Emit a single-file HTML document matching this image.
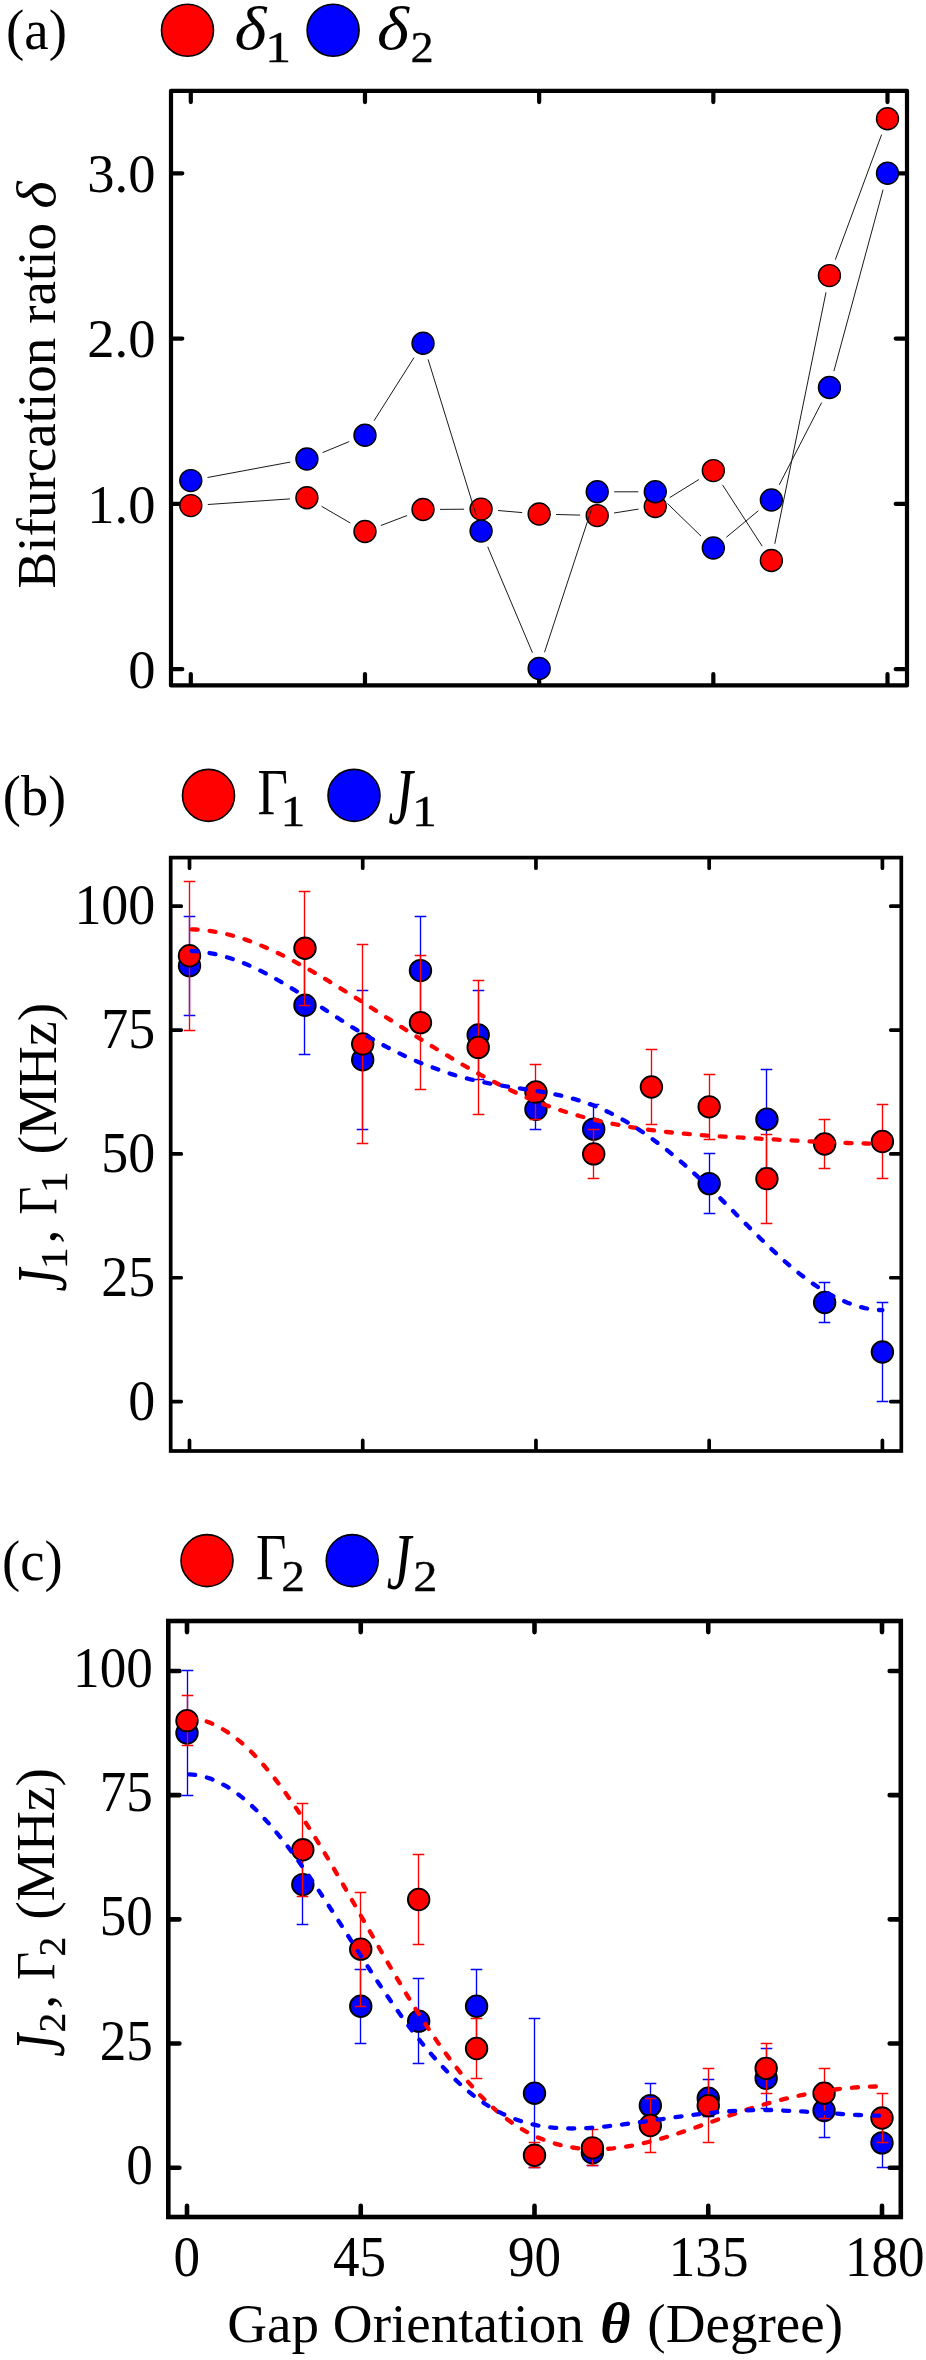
<!DOCTYPE html>
<html><head><meta charset="utf-8"><title>Figure</title>
<style>
html,body{margin:0;padding:0;background:#fff;}
body{width:926px;height:2360px;overflow:hidden;font-family:"Liberation Serif",serif;}
svg{display:block;}
svg text{font-family:"Liberation Serif",serif;fill:#000;}
</style></head><body>
<svg width="926" height="2360" viewBox="0 0 926 2360">
<rect width="926" height="2360" fill="#fff"/>
<rect x="171" y="90.8" width="736.00" height="594.60" fill="none" stroke="#000" stroke-width="4.2" stroke-linejoin="round"/>
<path d="M190.80 91.80V102.10M190.80 684.40V674.10M364.98 91.80V102.10M364.98 684.40V674.10M539.15 91.80V102.10M539.15 684.40V674.10M713.33 91.80V102.10M713.33 684.40V674.10M887.50 91.80V102.10M887.50 684.40V674.10M172.00 669.20H182.30M906.00 669.20H895.70M172.00 503.90H182.30M906.00 503.90H895.70M172.00 338.60H182.30M906.00 338.60H895.70M172.00 173.30H182.30M906.00 173.30H895.70" fill="none" stroke="#000" stroke-width="4.2" stroke-linecap="round"/>
<path d="M207.8 504.5L290.0 498.9M321.6 506.3L350.3 523.0M380.9 525.5L407.1 515.5M440.0 509.4L464.1 509.2M498.0 510.5L522.2 512.6M556.1 514.5L580.2 515.1M614.0 513.0L638.5 509.1M669.7 497.6L698.9 479.5M722.5 484.9L762.2 546.2M774.8 543.8L826.0 292.3M835.3 259.7L881.6 134.6" fill="none" stroke="#1a1a1a" stroke-width="1.0"/>
<circle cx="190.80" cy="505.60" r="11.0" fill="#ff0000" stroke="#000" stroke-width="1.4"/>
<circle cx="306.92" cy="497.80" r="11.0" fill="#ff0000" stroke="#000" stroke-width="1.4"/>
<circle cx="364.98" cy="531.50" r="11.0" fill="#ff0000" stroke="#000" stroke-width="1.4"/>
<circle cx="423.03" cy="509.50" r="11.0" fill="#ff0000" stroke="#000" stroke-width="1.4"/>
<circle cx="481.09" cy="509.10" r="11.0" fill="#ff0000" stroke="#000" stroke-width="1.4"/>
<circle cx="539.15" cy="514.00" r="11.0" fill="#ff0000" stroke="#000" stroke-width="1.4"/>
<circle cx="597.21" cy="515.60" r="11.0" fill="#ff0000" stroke="#000" stroke-width="1.4"/>
<circle cx="655.27" cy="506.50" r="11.0" fill="#ff0000" stroke="#000" stroke-width="1.4"/>
<circle cx="713.33" cy="470.60" r="11.0" fill="#ff0000" stroke="#000" stroke-width="1.4"/>
<circle cx="771.38" cy="560.50" r="11.0" fill="#ff0000" stroke="#000" stroke-width="1.4"/>
<circle cx="829.44" cy="275.60" r="11.0" fill="#ff0000" stroke="#000" stroke-width="1.4"/>
<circle cx="887.50" cy="118.70" r="11.0" fill="#ff0000" stroke="#000" stroke-width="1.4"/>
<path d="M207.5 477.5L290.2 462.1M322.6 452.6L349.2 441.6M374.0 420.8L414.0 357.6M428.1 359.4L476.1 514.9M487.7 546.8L532.5 652.8M544.5 652.3L591.9 508.0M614.2 491.8L638.3 491.8M667.5 503.6L701.1 536.2M726.4 537.2L758.3 510.8M779.2 484.9L821.6 402.6M833.9 371.1L883.1 189.6" fill="none" stroke="#1a1a1a" stroke-width="1.0"/>
<circle cx="190.80" cy="480.60" r="11.0" fill="#0000ff" stroke="#000" stroke-width="1.4"/>
<circle cx="306.92" cy="459.00" r="11.0" fill="#0000ff" stroke="#000" stroke-width="1.4"/>
<circle cx="364.98" cy="435.20" r="11.0" fill="#0000ff" stroke="#000" stroke-width="1.4"/>
<circle cx="423.03" cy="343.20" r="11.0" fill="#0000ff" stroke="#000" stroke-width="1.4"/>
<circle cx="481.09" cy="531.10" r="11.0" fill="#0000ff" stroke="#000" stroke-width="1.4"/>
<circle cx="539.15" cy="668.50" r="11.0" fill="#0000ff" stroke="#000" stroke-width="1.4"/>
<circle cx="597.21" cy="491.80" r="11.0" fill="#0000ff" stroke="#000" stroke-width="1.4"/>
<circle cx="655.27" cy="491.80" r="11.0" fill="#0000ff" stroke="#000" stroke-width="1.4"/>
<circle cx="713.33" cy="548.00" r="11.0" fill="#0000ff" stroke="#000" stroke-width="1.4"/>
<circle cx="771.38" cy="500.00" r="11.0" fill="#0000ff" stroke="#000" stroke-width="1.4"/>
<circle cx="829.44" cy="387.50" r="11.0" fill="#0000ff" stroke="#000" stroke-width="1.4"/>
<circle cx="887.50" cy="173.20" r="11.0" fill="#0000ff" stroke="#000" stroke-width="1.4"/>
<rect x="170.7" y="857.6" width="730.60" height="593.40" fill="none" stroke="#000" stroke-width="3.7" stroke-linejoin="miter"/>
<path d="M189.50 858.60V868.15M189.50 1450.00V1440.45M362.73 858.60V868.15M362.73 1450.00V1440.45M535.95 858.60V868.15M535.95 1450.00V1440.45M709.17 858.60V868.15M709.17 1450.00V1440.45M882.40 858.60V868.15M882.40 1450.00V1440.45M171.70 1401.60H181.25M900.30 1401.60H890.75M171.70 1277.75H181.25M900.30 1277.75H890.75M171.70 1153.90H181.25M900.30 1153.90H890.75M171.70 1030.05H181.25M900.30 1030.05H890.75M171.70 906.20H181.25M900.30 906.20H890.75" fill="none" stroke="#000" stroke-width="3.7" stroke-linecap="round"/>
<path d="M189.50 916.50V1015.50M183.70 916.50H195.30M183.70 1015.50H195.30" fill="none" stroke="#0000ff" stroke-width="1.35"/>
<path d="M304.50 955.50V1054.50M298.70 955.50H310.30M298.70 1054.50H310.30" fill="none" stroke="#0000ff" stroke-width="1.35"/>
<path d="M362.50 990.50V1129.50M356.70 990.50H368.30M356.70 1129.50H368.30" fill="none" stroke="#0000ff" stroke-width="1.35"/>
<path d="M420.50 916.50V1025.50M414.70 916.50H426.30M414.70 1025.50H426.30" fill="none" stroke="#0000ff" stroke-width="1.35"/>
<path d="M478.50 990.50V1079.50M472.70 990.50H484.30M472.70 1079.50H484.30" fill="none" stroke="#0000ff" stroke-width="1.35"/>
<path d="M535.50 1089.50V1129.50M529.70 1089.50H541.30M529.70 1129.50H541.30" fill="none" stroke="#0000ff" stroke-width="1.35"/>
<path d="M593.50 1104.50V1153.50M587.70 1104.50H599.30M587.70 1153.50H599.30" fill="none" stroke="#0000ff" stroke-width="1.35"/>
<path d="M709.50 1153.50V1213.50M703.70 1153.50H715.30M703.70 1213.50H715.30" fill="none" stroke="#0000ff" stroke-width="1.35"/>
<path d="M766.50 1069.50V1168.50M760.70 1069.50H772.30M760.70 1168.50H772.30" fill="none" stroke="#0000ff" stroke-width="1.35"/>
<path d="M824.50 1282.50V1322.50M818.70 1282.50H830.30M818.70 1322.50H830.30" fill="none" stroke="#0000ff" stroke-width="1.35"/>
<path d="M882.50 1302.50V1401.50M876.70 1302.50H888.30M876.70 1401.50H888.30" fill="none" stroke="#0000ff" stroke-width="1.35"/>
<circle cx="189.50" cy="965.65" r="10.8" fill="#0000ff" stroke="#000" stroke-width="1.8"/>
<circle cx="304.98" cy="1005.28" r="10.8" fill="#0000ff" stroke="#000" stroke-width="1.8"/>
<circle cx="362.73" cy="1059.77" r="10.8" fill="#0000ff" stroke="#000" stroke-width="1.8"/>
<circle cx="420.47" cy="970.60" r="10.8" fill="#0000ff" stroke="#000" stroke-width="1.8"/>
<circle cx="478.21" cy="1035.00" r="10.8" fill="#0000ff" stroke="#000" stroke-width="1.8"/>
<circle cx="535.95" cy="1109.31" r="10.8" fill="#0000ff" stroke="#000" stroke-width="1.8"/>
<circle cx="593.69" cy="1129.13" r="10.8" fill="#0000ff" stroke="#000" stroke-width="1.8"/>
<circle cx="709.17" cy="1183.62" r="10.8" fill="#0000ff" stroke="#000" stroke-width="1.8"/>
<circle cx="766.92" cy="1119.22" r="10.8" fill="#0000ff" stroke="#000" stroke-width="1.8"/>
<circle cx="824.66" cy="1302.52" r="10.8" fill="#0000ff" stroke="#000" stroke-width="1.8"/>
<circle cx="882.40" cy="1352.06" r="10.8" fill="#0000ff" stroke="#000" stroke-width="1.8"/>
<path d="M189.50 881.50V1030.50M183.70 881.50H195.30M183.70 1030.50H195.30" fill="none" stroke="#ff0000" stroke-width="1.35"/>
<path d="M304.50 891.50V1005.50M298.70 891.50H310.30M298.70 1005.50H310.30" fill="none" stroke="#ff0000" stroke-width="1.35"/>
<path d="M362.50 944.50V1143.50M356.70 944.50H368.30M356.70 1143.50H368.30" fill="none" stroke="#ff0000" stroke-width="1.35"/>
<path d="M420.50 955.50V1089.50M414.70 955.50H426.30M414.70 1089.50H426.30" fill="none" stroke="#ff0000" stroke-width="1.35"/>
<path d="M478.50 980.50V1114.50M472.70 980.50H484.30M472.70 1114.50H484.30" fill="none" stroke="#ff0000" stroke-width="1.35"/>
<path d="M535.50 1064.50V1119.50M529.70 1064.50H541.30M529.70 1119.50H541.30" fill="none" stroke="#ff0000" stroke-width="1.35"/>
<path d="M593.50 1129.50V1178.50M587.70 1129.50H599.30M587.70 1178.50H599.30" fill="none" stroke="#ff0000" stroke-width="1.35"/>
<path d="M651.50 1049.50V1124.50M645.70 1049.50H657.30M645.70 1124.50H657.30" fill="none" stroke="#ff0000" stroke-width="1.35"/>
<path d="M709.50 1074.50V1139.50M703.70 1074.50H715.30M703.70 1139.50H715.30" fill="none" stroke="#ff0000" stroke-width="1.35"/>
<path d="M766.50 1134.50V1223.50M760.70 1134.50H772.30M760.70 1223.50H772.30" fill="none" stroke="#ff0000" stroke-width="1.35"/>
<path d="M824.50 1119.50V1168.50M818.70 1119.50H830.30M818.70 1168.50H830.30" fill="none" stroke="#ff0000" stroke-width="1.35"/>
<path d="M882.50 1104.50V1178.50M876.70 1104.50H888.30M876.70 1178.50H888.30" fill="none" stroke="#ff0000" stroke-width="1.35"/>
<circle cx="189.50" cy="955.74" r="10.8" fill="#ff0000" stroke="#000" stroke-width="1.8"/>
<circle cx="304.98" cy="948.31" r="10.8" fill="#ff0000" stroke="#000" stroke-width="1.8"/>
<circle cx="362.73" cy="1043.92" r="10.8" fill="#ff0000" stroke="#000" stroke-width="1.8"/>
<circle cx="420.47" cy="1022.62" r="10.8" fill="#ff0000" stroke="#000" stroke-width="1.8"/>
<circle cx="478.21" cy="1047.39" r="10.8" fill="#ff0000" stroke="#000" stroke-width="1.8"/>
<circle cx="535.95" cy="1091.97" r="10.8" fill="#ff0000" stroke="#000" stroke-width="1.8"/>
<circle cx="593.69" cy="1153.90" r="10.8" fill="#ff0000" stroke="#000" stroke-width="1.8"/>
<circle cx="651.43" cy="1087.02" r="10.8" fill="#ff0000" stroke="#000" stroke-width="1.8"/>
<circle cx="709.17" cy="1106.84" r="10.8" fill="#ff0000" stroke="#000" stroke-width="1.8"/>
<circle cx="766.92" cy="1178.67" r="10.8" fill="#ff0000" stroke="#000" stroke-width="1.8"/>
<circle cx="824.66" cy="1143.99" r="10.8" fill="#ff0000" stroke="#000" stroke-width="1.8"/>
<circle cx="882.40" cy="1141.51" r="10.8" fill="#ff0000" stroke="#000" stroke-width="1.8"/>
<path d="M189.5 929.3 L195.3 929.5 L201.1 929.9 L207.0 930.5 L212.8 931.3 L218.6 932.3 L224.4 933.5 L230.3 935.0 L236.1 936.6 L241.9 938.4 L247.7 940.4 L253.5 942.5 L259.4 944.8 L265.2 947.3 L271.0 949.8 L276.8 952.6 L282.7 955.4 L288.5 958.3 L294.3 961.4 L300.1 964.6 L306.0 967.8 L311.8 971.1 L317.6 974.5 L323.4 977.9 L329.2 981.4 L335.1 985.0 L340.9 988.6 L346.7 992.2 L352.5 995.8 L358.4 999.5 L364.2 1003.2 L370.0 1006.9 L375.8 1010.6 L381.6 1014.4 L387.5 1018.1 L393.3 1021.8 L399.1 1025.5 L404.9 1029.3 L410.8 1033.0 L416.6 1036.6 L422.4 1040.3 L428.2 1043.9 L434.1 1047.5 L439.9 1051.1 L445.7 1054.6 L451.5 1058.1 L457.3 1061.6 L463.2 1065.0 L469.0 1068.3 L474.8 1071.6 L480.6 1074.8 L486.5 1077.9 L492.3 1081.0 L498.1 1084.0 L503.9 1086.9 L509.7 1089.7 L515.6 1092.5 L521.4 1095.1 L527.2 1097.7 L533.0 1100.1 L538.9 1102.4 L544.7 1104.7 L550.5 1106.8 L556.3 1108.8 L562.2 1110.8 L568.0 1112.6 L573.8 1114.3 L579.6 1116.0 L585.4 1117.5 L591.3 1119.0 L597.1 1120.4 L602.9 1121.7 L608.7 1123.0 L614.6 1124.2 L620.4 1125.3 L626.2 1126.3 L632.0 1127.3 L637.8 1128.2 L643.7 1129.1 L649.5 1129.9 L655.3 1130.6 L661.1 1131.3 L667.0 1132.0 L672.8 1132.6 L678.6 1133.2 L684.4 1133.7 L690.3 1134.2 L696.1 1134.7 L701.9 1135.1 L707.7 1135.6 L713.5 1136.0 L719.4 1136.3 L725.2 1136.7 L731.0 1137.0 L736.8 1137.4 L742.7 1137.7 L748.5 1138.0 L754.3 1138.4 L760.1 1138.7 L765.9 1139.0 L771.8 1139.3 L777.6 1139.7 L783.4 1140.0 L789.2 1140.3 L795.1 1140.6 L800.9 1140.9 L806.7 1141.2 L812.5 1141.5 L818.4 1141.8 L824.2 1142.1 L830.0 1142.3 L835.8 1142.6 L841.6 1142.8 L847.5 1143.0 L853.3 1143.2 L859.1 1143.3 L864.9 1143.5 L870.8 1143.6 L876.6 1143.7 L882.4 1143.8" fill="none" stroke="#ff0000" stroke-width="4.3" stroke-dasharray="6 12" stroke-dashoffset="-2.15" stroke-linecap="round" stroke-linejoin="round"/>
<path d="M189.5 950.9 L195.3 951.2 L201.1 951.7 L207.0 952.6 L212.8 953.6 L218.6 954.9 L224.4 956.5 L230.3 958.2 L236.1 960.2 L241.9 962.4 L247.7 964.8 L253.5 967.4 L259.4 970.2 L265.2 973.1 L271.0 976.2 L276.8 979.5 L282.7 982.8 L288.5 986.3 L294.3 989.9 L300.1 993.5 L306.0 997.3 L311.8 1001.0 L317.6 1004.8 L323.4 1008.6 L329.2 1012.4 L335.1 1016.2 L340.9 1020.0 L346.7 1023.7 L352.5 1027.4 L358.4 1030.9 L364.2 1034.4 L370.0 1037.8 L375.8 1041.1 L381.6 1044.3 L387.5 1047.4 L393.3 1050.3 L399.1 1053.2 L404.9 1056.0 L410.8 1058.6 L416.6 1061.2 L422.4 1063.6 L428.2 1065.9 L434.1 1068.1 L439.9 1070.2 L445.7 1072.2 L451.5 1074.1 L457.3 1075.9 L463.2 1077.5 L469.0 1079.0 L474.8 1080.4 L480.6 1081.7 L486.5 1082.9 L492.3 1084.0 L498.1 1085.0 L503.9 1086.0 L509.7 1086.9 L515.6 1087.8 L521.4 1088.6 L527.2 1089.5 L533.0 1090.4 L538.9 1091.4 L544.7 1092.4 L550.5 1093.5 L556.3 1094.6 L562.2 1095.9 L568.0 1097.3 L573.8 1098.9 L579.6 1100.6 L585.4 1102.5 L591.3 1104.6 L597.1 1106.9 L602.9 1109.5 L608.7 1112.2 L614.6 1115.2 L620.4 1118.3 L626.2 1121.7 L632.0 1125.2 L637.8 1128.9 L643.7 1132.8 L649.5 1136.9 L655.3 1141.2 L661.1 1145.6 L667.0 1150.1 L672.8 1154.9 L678.6 1159.7 L684.4 1164.7 L690.3 1169.9 L696.1 1175.2 L701.9 1180.6 L707.7 1186.1 L713.5 1191.7 L719.4 1197.4 L725.2 1203.2 L731.0 1209.0 L736.8 1214.9 L742.7 1220.8 L748.5 1226.6 L754.3 1232.4 L760.1 1238.2 L765.9 1243.8 L771.8 1249.4 L777.6 1254.8 L783.4 1260.1 L789.2 1265.2 L795.1 1270.1 L800.9 1274.8 L806.7 1279.2 L812.5 1283.4 L818.4 1287.3 L824.2 1291.0 L830.0 1294.4 L835.8 1297.5 L841.6 1300.2 L847.5 1302.7 L853.3 1304.8 L859.1 1306.6 L864.9 1308.1 L870.8 1309.2 L876.6 1309.9 L882.4 1310.2" fill="none" stroke="#0000ff" stroke-width="4.3" stroke-dasharray="6 12" stroke-dashoffset="-2.15" stroke-linecap="round" stroke-linejoin="round"/>
<rect x="168.3" y="1621" width="732.50" height="596.00" fill="none" stroke="#000" stroke-width="4.6" stroke-linejoin="miter"/>
<path d="M187.00 1622.00V1632.10M187.00 2216.00V2205.90M360.75 1622.00V1632.10M360.75 2216.00V2205.90M534.50 1622.00V1632.10M534.50 2216.00V2205.90M708.25 1622.00V1632.10M708.25 2216.00V2205.90M882.00 1622.00V1632.10M882.00 2216.00V2205.90M169.30 2167.70H179.40M899.80 2167.70H889.70M169.30 2043.52H179.40M899.80 2043.52H889.70M169.30 1919.35H179.40M899.80 1919.35H889.70M169.30 1795.17H179.40M899.80 1795.17H889.70M169.30 1671.00H179.40M899.80 1671.00H889.70" fill="none" stroke="#000" stroke-width="4.6" stroke-linecap="round"/>
<path d="M187.50 1670.50V1795.50M181.70 1670.50H193.30M181.70 1795.50H193.30" fill="none" stroke="#0000ff" stroke-width="1.35"/>
<path d="M302.50 1844.50V1924.50M296.70 1844.50H308.30M296.70 1924.50H308.30" fill="none" stroke="#0000ff" stroke-width="1.35"/>
<path d="M360.50 1969.50V2043.50M354.70 1969.50H366.30M354.70 2043.50H366.30" fill="none" stroke="#0000ff" stroke-width="1.35"/>
<path d="M418.50 1978.50V2063.50M412.70 1978.50H424.30M412.70 2063.50H424.30" fill="none" stroke="#0000ff" stroke-width="1.35"/>
<path d="M476.50 1969.50V2043.50M470.70 1969.50H482.30M470.70 2043.50H482.30" fill="none" stroke="#0000ff" stroke-width="1.35"/>
<path d="M534.50 2018.50V2167.50M528.70 2018.50H540.30M528.70 2167.50H540.30" fill="none" stroke="#0000ff" stroke-width="1.35"/>
<path d="M592.50 2139.50V2165.50M586.70 2139.50H598.30M586.70 2165.50H598.30" fill="none" stroke="#0000ff" stroke-width="1.35"/>
<path d="M650.50 2083.50V2127.50M644.70 2083.50H656.30M644.70 2127.50H656.30" fill="none" stroke="#0000ff" stroke-width="1.35"/>
<path d="M708.50 2079.50V2116.50M702.70 2079.50H714.30M702.70 2116.50H714.30" fill="none" stroke="#0000ff" stroke-width="1.35"/>
<path d="M766.50 2048.50V2108.50M760.70 2048.50H772.30M760.70 2108.50H772.30" fill="none" stroke="#0000ff" stroke-width="1.35"/>
<path d="M824.50 2083.50V2137.50M818.70 2083.50H830.30M818.70 2137.50H830.30" fill="none" stroke="#0000ff" stroke-width="1.35"/>
<path d="M882.50 2118.50V2167.50M876.70 2118.50H888.30M876.70 2167.50H888.30" fill="none" stroke="#0000ff" stroke-width="1.35"/>
<circle cx="187.00" cy="1733.09" r="10.8" fill="#0000ff" stroke="#000" stroke-width="1.8"/>
<circle cx="302.83" cy="1884.58" r="10.8" fill="#0000ff" stroke="#000" stroke-width="1.8"/>
<circle cx="360.75" cy="2006.27" r="10.8" fill="#0000ff" stroke="#000" stroke-width="1.8"/>
<circle cx="418.67" cy="2021.17" r="10.8" fill="#0000ff" stroke="#000" stroke-width="1.8"/>
<circle cx="476.58" cy="2006.27" r="10.8" fill="#0000ff" stroke="#000" stroke-width="1.8"/>
<circle cx="534.50" cy="2093.19" r="10.8" fill="#0000ff" stroke="#000" stroke-width="1.8"/>
<circle cx="592.42" cy="2152.80" r="10.8" fill="#0000ff" stroke="#000" stroke-width="1.8"/>
<circle cx="650.33" cy="2105.61" r="10.8" fill="#0000ff" stroke="#000" stroke-width="1.8"/>
<circle cx="708.25" cy="2098.16" r="10.8" fill="#0000ff" stroke="#000" stroke-width="1.8"/>
<circle cx="766.17" cy="2078.29" r="10.8" fill="#0000ff" stroke="#000" stroke-width="1.8"/>
<circle cx="824.08" cy="2110.58" r="10.8" fill="#0000ff" stroke="#000" stroke-width="1.8"/>
<circle cx="882.00" cy="2142.86" r="10.8" fill="#0000ff" stroke="#000" stroke-width="1.8"/>
<path d="M187.50 1695.50V1745.50M181.70 1695.50H193.30M181.70 1745.50H193.30" fill="none" stroke="#ff0000" stroke-width="1.35"/>
<path d="M302.50 1803.50V1896.50M296.70 1803.50H308.30M296.70 1896.50H308.30" fill="none" stroke="#ff0000" stroke-width="1.35"/>
<path d="M360.50 1892.50V2006.50M354.70 1892.50H366.30M354.70 2006.50H366.30" fill="none" stroke="#ff0000" stroke-width="1.35"/>
<path d="M418.50 1854.50V1944.50M412.70 1854.50H424.30M412.70 1944.50H424.30" fill="none" stroke="#ff0000" stroke-width="1.35"/>
<path d="M476.50 2018.50V2078.50M470.70 2018.50H482.30M470.70 2078.50H482.30" fill="none" stroke="#ff0000" stroke-width="1.35"/>
<path d="M534.50 2142.50V2167.50M528.70 2142.50H540.30M528.70 2167.50H540.30" fill="none" stroke="#ff0000" stroke-width="1.35"/>
<path d="M592.50 2129.50V2165.50M586.70 2129.50H598.30M586.70 2165.50H598.30" fill="none" stroke="#ff0000" stroke-width="1.35"/>
<path d="M650.50 2098.50V2152.50M644.70 2098.50H656.30M644.70 2152.50H656.30" fill="none" stroke="#ff0000" stroke-width="1.35"/>
<path d="M708.50 2068.50V2142.50M702.70 2068.50H714.30M702.70 2142.50H714.30" fill="none" stroke="#ff0000" stroke-width="1.35"/>
<path d="M766.50 2043.50V2093.50M760.70 2043.50H772.30M760.70 2093.50H772.30" fill="none" stroke="#ff0000" stroke-width="1.35"/>
<path d="M824.50 2068.50V2118.50M818.70 2068.50H830.30M818.70 2118.50H830.30" fill="none" stroke="#ff0000" stroke-width="1.35"/>
<path d="M882.50 2093.50V2142.50M876.70 2093.50H888.30M876.70 2142.50H888.30" fill="none" stroke="#ff0000" stroke-width="1.35"/>
<circle cx="187.00" cy="1720.67" r="10.8" fill="#ff0000" stroke="#000" stroke-width="1.8"/>
<circle cx="302.83" cy="1849.81" r="10.8" fill="#ff0000" stroke="#000" stroke-width="1.8"/>
<circle cx="360.75" cy="1949.15" r="10.8" fill="#ff0000" stroke="#000" stroke-width="1.8"/>
<circle cx="418.67" cy="1899.48" r="10.8" fill="#ff0000" stroke="#000" stroke-width="1.8"/>
<circle cx="476.58" cy="2048.49" r="10.8" fill="#ff0000" stroke="#000" stroke-width="1.8"/>
<circle cx="534.50" cy="2155.28" r="10.8" fill="#ff0000" stroke="#000" stroke-width="1.8"/>
<circle cx="592.42" cy="2147.83" r="10.8" fill="#ff0000" stroke="#000" stroke-width="1.8"/>
<circle cx="650.33" cy="2125.48" r="10.8" fill="#ff0000" stroke="#000" stroke-width="1.8"/>
<circle cx="708.25" cy="2105.61" r="10.8" fill="#ff0000" stroke="#000" stroke-width="1.8"/>
<circle cx="766.17" cy="2068.36" r="10.8" fill="#ff0000" stroke="#000" stroke-width="1.8"/>
<circle cx="824.08" cy="2093.19" r="10.8" fill="#ff0000" stroke="#000" stroke-width="1.8"/>
<circle cx="882.00" cy="2118.03" r="10.8" fill="#ff0000" stroke="#000" stroke-width="1.8"/>
<path d="M187.0 1717.7 L192.8 1718.2 L198.7 1719.2 L204.5 1720.8 L210.4 1722.9 L216.2 1725.5 L222.0 1728.7 L227.9 1732.3 L233.7 1736.5 L239.6 1741.1 L245.4 1746.2 L251.2 1751.8 L257.1 1757.8 L262.9 1764.3 L268.8 1771.2 L274.6 1778.4 L280.4 1786.0 L286.3 1794.0 L292.1 1802.3 L298.0 1810.8 L303.8 1819.7 L309.6 1828.7 L315.5 1838.1 L321.3 1847.6 L327.2 1857.3 L333.0 1867.2 L338.8 1877.2 L344.7 1887.3 L350.5 1897.5 L356.4 1907.7 L362.2 1918.0 L368.1 1928.3 L373.9 1938.5 L379.7 1948.7 L385.6 1958.9 L391.4 1968.9 L397.3 1978.8 L403.1 1988.6 L408.9 1998.2 L414.8 2007.6 L420.6 2016.8 L426.5 2025.7 L432.3 2034.4 L438.1 2042.9 L444.0 2051.1 L449.8 2059.0 L455.7 2066.6 L461.5 2074.0 L467.3 2081.0 L473.2 2087.6 L479.0 2094.0 L484.9 2100.0 L490.7 2105.6 L496.5 2110.8 L502.4 2115.6 L508.2 2120.1 L514.1 2124.2 L519.9 2128.0 L525.7 2131.4 L531.6 2134.4 L537.4 2137.2 L543.3 2139.6 L549.1 2141.8 L554.9 2143.6 L560.8 2145.2 L566.6 2146.5 L572.5 2147.5 L578.3 2148.3 L584.1 2148.8 L590.0 2149.1 L595.8 2149.2 L601.7 2149.1 L607.5 2148.8 L613.3 2148.3 L619.2 2147.6 L625.0 2146.8 L630.9 2145.8 L636.7 2144.7 L642.5 2143.4 L648.4 2142.0 L654.2 2140.5 L660.1 2138.9 L665.9 2137.2 L671.7 2135.4 L677.6 2133.5 L683.4 2131.6 L689.3 2129.6 L695.1 2127.6 L700.9 2125.6 L706.8 2123.5 L712.6 2121.5 L718.5 2119.4 L724.3 2117.3 L730.2 2115.3 L736.0 2113.3 L741.8 2111.3 L747.7 2109.4 L753.5 2107.6 L759.4 2105.8 L765.2 2104.1 L771.0 2102.5 L776.9 2100.9 L782.7 2099.4 L788.6 2098.0 L794.4 2096.6 L800.2 2095.4 L806.1 2094.2 L811.9 2093.1 L817.8 2092.1 L823.6 2091.1 L829.4 2090.2 L835.3 2089.5 L841.1 2088.8 L847.0 2088.2 L852.8 2087.7 L858.6 2087.2 L864.5 2086.9 L870.3 2086.7 L876.2 2086.5 L882.0 2086.5" fill="none" stroke="#ff0000" stroke-width="4.3" stroke-dasharray="6 12" stroke-dashoffset="-2.15" stroke-linecap="round" stroke-linejoin="round"/>
<path d="M187.0 1774.3 L192.8 1774.6 L198.7 1775.4 L204.5 1776.8 L210.4 1778.6 L216.2 1781.0 L222.0 1783.9 L227.9 1787.2 L233.7 1791.0 L239.6 1795.3 L245.4 1800.1 L251.2 1805.3 L257.1 1810.9 L262.9 1817.0 L268.8 1823.4 L274.6 1830.2 L280.4 1837.3 L286.3 1844.7 L292.1 1852.4 L298.0 1860.4 L303.8 1868.6 L309.6 1877.0 L315.5 1885.6 L321.3 1894.4 L327.2 1903.3 L333.0 1912.3 L338.8 1921.3 L344.7 1930.5 L350.5 1939.6 L356.4 1948.8 L362.2 1957.9 L368.1 1967.0 L373.9 1976.0 L379.7 1984.8 L385.6 1993.5 L391.4 2002.0 L397.3 2010.4 L403.1 2018.5 L408.9 2026.4 L414.8 2034.0 L420.6 2041.4 L426.5 2048.5 L432.3 2055.4 L438.1 2062.0 L444.0 2068.3 L449.8 2074.3 L455.7 2080.0 L461.5 2085.4 L467.3 2090.5 L473.2 2095.2 L479.0 2099.6 L484.9 2103.7 L490.7 2107.4 L496.5 2110.7 L502.4 2113.7 L508.2 2116.4 L514.1 2118.8 L519.9 2120.8 L525.7 2122.6 L531.6 2124.1 L537.4 2125.4 L543.3 2126.4 L549.1 2127.2 L554.9 2127.8 L560.8 2128.2 L566.6 2128.4 L572.5 2128.5 L578.3 2128.4 L584.1 2128.2 L590.0 2127.8 L595.8 2127.4 L601.7 2126.9 L607.5 2126.3 L613.3 2125.6 L619.2 2124.9 L625.0 2124.1 L630.9 2123.4 L636.7 2122.6 L642.5 2121.8 L648.4 2120.9 L654.2 2120.1 L660.1 2119.3 L665.9 2118.5 L671.7 2117.7 L677.6 2116.9 L683.4 2116.1 L689.3 2115.3 L695.1 2114.6 L700.9 2113.9 L706.8 2113.3 L712.6 2112.7 L718.5 2112.1 L724.3 2111.6 L730.2 2111.2 L736.0 2110.8 L741.8 2110.5 L747.7 2110.3 L753.5 2110.2 L759.4 2110.1 L765.2 2110.1 L771.0 2110.2 L776.9 2110.4 L782.7 2110.5 L788.6 2110.8 L794.4 2111.1 L800.2 2111.4 L806.1 2111.7 L811.9 2112.1 L817.8 2112.5 L823.6 2112.8 L829.4 2113.2 L835.3 2113.6 L841.1 2114.0 L847.0 2114.4 L852.8 2114.7 L858.6 2115.0 L864.5 2115.3 L870.3 2115.5 L876.2 2115.7 L882.0 2115.8" fill="none" stroke="#0000ff" stroke-width="4.3" stroke-dasharray="6 12" stroke-dashoffset="-2.15" stroke-linecap="round" stroke-linejoin="round"/>
<g style="opacity:0.999">
<text transform="translate(6,48.9) scale(0.99,1.02)" font-size="55.5" text-anchor="start" >(a)</text>
<text transform="translate(2.8,814.8) scale(0.98,1.02)" font-size="55.5" text-anchor="start" >(b)</text>
<text transform="translate(2.0,1580.0) scale(0.985,1.02)" font-size="55.5" text-anchor="start" >(c)</text>
<text transform="translate(155.4,191.9) scale(1.0,1.02)" font-size="54.5" text-anchor="end" >3.0</text>
<text transform="translate(155.4,357.20000000000005) scale(1.0,1.02)" font-size="54.5" text-anchor="end" >2.0</text>
<text transform="translate(155.4,522.5) scale(1.0,1.02)" font-size="54.5" text-anchor="end" >1.0</text>
<text transform="translate(155.4,687.8000000000001) scale(1.0,1.02)" font-size="54.5" text-anchor="end" >0</text>
<text transform="translate(155.3,924.1) scale(0.99,1.045)" font-size="54.5" text-anchor="end" >100</text>
<text transform="translate(155.3,1047.95) scale(0.99,1.045)" font-size="54.5" text-anchor="end" >75</text>
<text transform="translate(155.3,1171.8000000000002) scale(0.99,1.045)" font-size="54.5" text-anchor="end" >50</text>
<text transform="translate(155.3,1295.65) scale(0.99,1.045)" font-size="54.5" text-anchor="end" >25</text>
<text transform="translate(155.3,1419.5) scale(0.99,1.045)" font-size="54.5" text-anchor="end" >0</text>
<text transform="translate(152.8,1687.1) scale(0.975,1.045)" font-size="54.5" text-anchor="end" >100</text>
<text transform="translate(152.8,1811.3) scale(0.975,1.045)" font-size="54.5" text-anchor="end" >75</text>
<text transform="translate(152.8,1935.4499999999998) scale(0.975,1.045)" font-size="54.5" text-anchor="end" >50</text>
<text transform="translate(152.8,2059.6) scale(0.975,1.045)" font-size="54.5" text-anchor="end" >25</text>
<text transform="translate(152.8,2183.7999999999997) scale(0.975,1.045)" font-size="54.5" text-anchor="end" >0</text>
<text transform="translate(186.7,2275.8) scale(0.975,1.045)" font-size="54.5" text-anchor="middle" >0</text>
<text transform="translate(359.6,2275.8) scale(0.975,1.045)" font-size="54.5" text-anchor="middle" >45</text>
<text transform="translate(534.5,2275.8) scale(0.975,1.045)" font-size="54.5" text-anchor="middle" >90</text>
<text transform="translate(708.6,2275.8) scale(0.975,1.045)" font-size="54.5" text-anchor="middle" >135</text>
<text transform="translate(884.8,2275.8) scale(0.975,1.045)" font-size="54.5" text-anchor="middle" >180</text>
<text transform="translate(227.3,2342)" font-size="55.1" text-anchor="start" >Gap Orientation</text>
<text transform="translate(600.3,2342) scale(1.04,1.0)" font-size="56" text-anchor="start" font-style="italic" font-weight="bold">θ</text>
<text transform="translate(647.3,2342)" font-size="55.1" text-anchor="start" >(Degree)</text>
<text transform="translate(55.3,588.5) rotate(-90)" font-size="55.1" text-anchor="start" >Bifurcation ratio</text>
<text transform="translate(55.3,208.7) rotate(-90) scale(1.05,1.0)" font-size="55.8" text-anchor="start" font-style="italic">δ</text>
<text transform="translate(65.8,1291.6) rotate(-90) scale(0.92,1.27)" font-size="55.8" text-anchor="start" font-style="italic">J</text>
<text transform="translate(67.0,1269.3) rotate(-90) scale(1.15,1.0)" font-size="38" text-anchor="start" stroke="#000" stroke-width="0.3">1</text>
<text transform="translate(56.2,1243.6) rotate(-90)" font-size="55.8" text-anchor="start" >,</text>
<text transform="translate(56.2,1214.8) rotate(-90) scale(0.87,1.0)" font-size="55.8" text-anchor="start" >Γ</text>
<text transform="translate(67.0,1193.3) rotate(-90) scale(1.15,1.0)" font-size="38" text-anchor="start" stroke="#000" stroke-width="0.3">1</text>
<text transform="translate(56.2,1154.6) rotate(-90)" font-size="55.8" text-anchor="start" >(MHz)</text>
<text transform="translate(63.6,2056.8) rotate(-90) scale(0.92,1.27)" font-size="55.8" text-anchor="start" font-style="italic">J</text>
<text transform="translate(64.8,2032.5) rotate(-90) scale(1.04,1.0)" font-size="38" text-anchor="start" stroke="#000" stroke-width="0.3">2</text>
<text transform="translate(54.0,2008.8) rotate(-90)" font-size="55.8" text-anchor="start" >,</text>
<text transform="translate(54.0,1980.0) rotate(-90) scale(0.87,1.0)" font-size="55.8" text-anchor="start" >Γ</text>
<text transform="translate(64.8,1956.5) rotate(-90) scale(1.04,1.0)" font-size="38" text-anchor="start" stroke="#000" stroke-width="0.3">2</text>
<text transform="translate(54.0,1919.8) rotate(-90)" font-size="55.8" text-anchor="start" >(MHz)</text>
<circle cx="187.5" cy="30.2" r="26" fill="#ff0000" stroke="#000" stroke-width="1.6"/>
<circle cx="333.1" cy="30.2" r="26" fill="#0000ff" stroke="#000" stroke-width="1.6"/>
<circle cx="208.5" cy="795.4" r="26" fill="#ff0000" stroke="#000" stroke-width="1.6"/>
<circle cx="354" cy="795.4" r="26" fill="#0000ff" stroke="#000" stroke-width="1.6"/>
<circle cx="207" cy="1560.6" r="26" fill="#ff0000" stroke="#000" stroke-width="1.6"/>
<circle cx="352.2" cy="1560.6" r="26" fill="#0000ff" stroke="#000" stroke-width="1.6"/>
<text transform="translate(234.6,49.4) scale(1.144,1.035)" font-size="60" text-anchor="start" font-style="italic">δ</text>
<text transform="translate(264.9,62.2) scale(1.19,1.0)" font-size="44" text-anchor="start" stroke="#000" stroke-width="0.3">1</text>
<text transform="translate(377.1,49.4) scale(1.144,1.035)" font-size="60" text-anchor="start" font-style="italic">δ</text>
<text transform="translate(410.6,62.2) scale(1.055,1.0)" font-size="44" text-anchor="start" stroke="#000" stroke-width="0.3">2</text>
<text transform="translate(257.4,814.1) scale(0.877,1.085)" font-size="60" text-anchor="start" >Γ</text>
<text transform="translate(280.4,825.6) scale(1.13,0.99)" font-size="44" text-anchor="start" stroke="#000" stroke-width="0.3">1</text>
<text transform="translate(388.3,823.8) scale(0.92,1.33)" font-size="60" text-anchor="start" font-style="italic">J</text>
<text transform="translate(411.9,825.6) scale(1.13,0.99)" font-size="44" text-anchor="start" stroke="#000" stroke-width="0.3">1</text>
<text transform="translate(255.9,1579.1) scale(0.877,1.085)" font-size="60" text-anchor="start" >Γ</text>
<text transform="translate(281.3,1591.2) scale(1.08,1.0)" font-size="44" text-anchor="start" stroke="#000" stroke-width="0.3">2</text>
<text transform="translate(386.8,1588.8) scale(0.92,1.33)" font-size="60" text-anchor="start" font-style="italic">J</text>
<text transform="translate(413.3,1591.2) scale(1.1,1.0)" font-size="44" text-anchor="start" stroke="#000" stroke-width="0.3">2</text>
</g>
</svg>
</body></html>
